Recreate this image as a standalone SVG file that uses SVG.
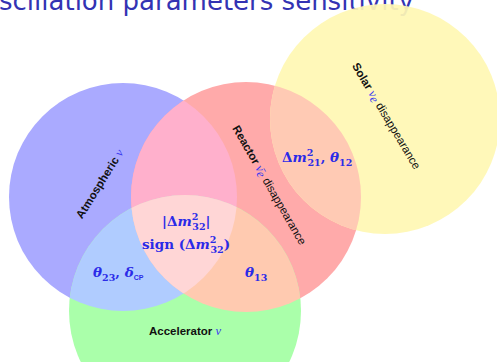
<svg xmlns="http://www.w3.org/2000/svg" width="497" height="362" viewBox="0 0 497 362">
  <defs>
    <clipPath id="clipBlue"><circle cx="123" cy="197" r="114"/></clipPath>
    <clipPath id="clipRed"><circle cx="246" cy="197" r="115"/></clipPath>
    <style>
      .title { font-family: "DejaVu Sans", "Liberation Sans", sans-serif; font-size: 26px; fill: #3333b3; }
      .lbl { font-family: "Liberation Sans", "DejaVu Sans", sans-serif; font-size: 11.5px; fill: #111; }
      .b { font-weight: bold; }
      .nu { font-family: "Liberation Serif", "DejaVu Serif", serif; font-style: italic; font-size: 12.5px; fill: #3b3bf0; }
      .m { font-family: "DejaVu Serif", "Liberation Serif", serif; font-size: 13.5px; font-weight: bold; fill: #2b2be8; }
      .it { font-style: italic; }
      .s { font-size: 9.5px; }
      .cp { font-family: "Liberation Sans", "DejaVu Sans", sans-serif; font-size: 7px; }
    </style>
  </defs>

  <rect width="497" height="362" fill="#ffffff"/>

  <!-- heading, partly hidden behind the solar set -->
  <text class="title" x="-1" y="10">scillation parameters sensitivity</text>

  <!-- base discs -->
  <g id="atmospheric">
    <circle cx="123" cy="197" r="114" fill="#aaaaff"/>
  </g>
  <g id="reactor">
    <circle cx="246" cy="197" r="115" fill="#ffaaaa"/>
  </g>
  <g id="solar">
    <circle cx="385" cy="119" r="115" fill="#fff8b4" fill-opacity="0.93"/>
  </g>
  <g id="accelerator">
    <circle cx="185" cy="311" r="116" fill="#aaffaa"/>
  </g>

  <!-- overlap regions -->
  <g id="overlaps">
    <circle cx="246" cy="197" r="115" fill="#ffb0cc" clip-path="url(#clipBlue)"/>
    <circle cx="185" cy="311" r="116" fill="#b0ccff" clip-path="url(#clipBlue)"/>
    <circle cx="185" cy="311" r="116" fill="#ffcab0" clip-path="url(#clipRed)"/>
    <circle cx="385" cy="119" r="115" fill="#ffcab4" clip-path="url(#clipRed)"/>
    <g clip-path="url(#clipBlue)">
      <circle cx="185" cy="311" r="116" fill="#ffd6d6" clip-path="url(#clipRed)"/>
    </g>
  </g>

  <g id="connectors"/>

  <!-- set labels -->
  <g id="label-atmospheric">
    <text class="lbl" text-anchor="middle" transform="translate(103 186) rotate(-58)"><tspan class="b">Atmospheric </tspan><tspan class="nu">ν</tspan></text>
  </g>
  <g id="label-reactor">
    <text class="lbl" text-anchor="middle" transform="translate(266 187) rotate(60)"><tspan class="b">Reactor </tspan><tspan class="nu">ν̄</tspan><tspan class="nu" font-size="7" dy="2">e</tspan><tspan dy="-2"> disappearance</tspan></text>
  </g>
  <g id="label-solar">
    <text class="lbl" text-anchor="middle" transform="translate(383 118) rotate(59)"><tspan class="b">Solar </tspan><tspan class="nu">ν</tspan><tspan class="nu" font-size="7" dy="2">e</tspan><tspan dy="-2"> disappearance</tspan></text>
  </g>
  <g id="label-accelerator">
    <text class="lbl" text-anchor="middle" x="185" y="335"><tspan class="b">Accelerator </tspan><tspan class="nu">ν</tspan></text>
  </g>

  <!-- parameter labels -->
  <g id="param-solar">
    <text class="m" x="282" y="162">Δ<tspan class="it">m</tspan><tspan class="s" dy="-6">2</tspan><tspan class="s" dx="-6" dy="10">21</tspan><tspan dy="-4">, </tspan><tspan class="it">θ</tspan><tspan class="s" dy="4">12</tspan></text>
  </g>
  <g id="param-atm">
    <text class="m" x="162" y="226">|Δ<tspan class="it">m</tspan><tspan class="s" dy="-6">2</tspan><tspan class="s" dx="-6" dy="10">32</tspan><tspan dy="-4">|</tspan></text>
    <text class="m" x="142" y="249">sign (Δ<tspan class="it">m</tspan><tspan class="s" dy="-6">2</tspan><tspan class="s" dx="-6" dy="10">32</tspan><tspan dy="-4">)</tspan></text>
  </g>
  <g id="param-acc">
    <text class="m" x="93" y="277"><tspan class="it">θ</tspan><tspan class="s" dy="4">23</tspan><tspan dy="-4">, </tspan><tspan class="it">δ</tspan><tspan class="cp" dy="3">CP</tspan></text>
  </g>
  <g id="param-reactor">
    <text class="m" x="245" y="277"><tspan class="it">θ</tspan><tspan class="s" dy="4">13</tspan></text>
  </g>
</svg>
